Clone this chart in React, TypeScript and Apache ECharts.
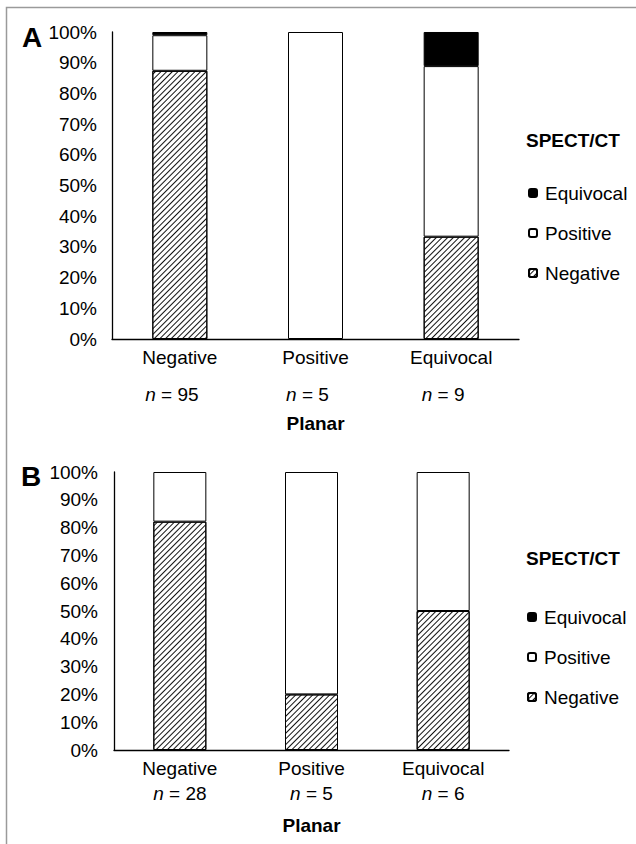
import React, { useEffect, useRef } from 'react';
import * as echarts from 'echarts';

// ---- data ----
const categories = ['Negative', 'Positive', 'Equivocal'];
const legendOrder = ['Equivocal', 'Positive', 'Negative'];

// Panel A counts (per Planar category)
const nA = [95, 5, 9];
const negA = [83, 0, 3];
const posA = [11, 5, 5];
const eqA = [1, 0, 1];

// Panel B counts (per Planar category)
const nB = [28, 5, 6];
const negB = [23, 1, 3];
const posB = [5, 4, 3];
const eqB = [0, 0, 0];

const yMin = 0;
const yMax = 100;
const yStep = 10;

const toPct = (counts: number[], n: number[]) =>
  counts.map((c, i) => (c === 0 ? '-' : Math.round((c / n[i]) * 10000) / 100));

const FONT = "'Liberation Sans', Arial, Helvetica, sans-serif";

const hatchDecal = {
  symbol: 'rect',
  symbolSize: 1,
  color: '#111',
  dashArrayX: [1, 0],
  dashArrayY: [1, 2.2],
  rotation: -Math.PI / 4,
};

function buildSeries(
  neg: number[], pos: number[], eq: number[], n: number[],
  xIdx: number, yIdx: number, stack: string, barWidth: number,
) {
  const common = {
    type: 'bar',
    stack,
    xAxisIndex: xIdx,
    yAxisIndex: yIdx,
    barWidth,
  };
  return [
    {
      ...common,
      name: 'Negative',
      data: toPct(neg, n),
      itemStyle: { color: '#fff', borderColor: '#000', borderWidth: 1, decal: hatchDecal },
    },
    {
      ...common,
      name: 'Positive',
      data: toPct(pos, n),
      itemStyle: { color: '#fff', borderColor: '#000', borderWidth: 1 },
    },
    {
      ...common,
      name: 'Equivocal',
      data: toPct(eq, n),
      itemStyle: { color: '#000', borderColor: '#000', borderWidth: 1 },
    },
  ];
}

function yAxis(gridIndex: number, margin: number) {
  return {
    type: 'value',
    gridIndex,
    min: yMin,
    max: yMax,
    interval: yStep,
    axisLine: { show: true, lineStyle: { color: '#000', width: 1.3 } },
    axisTick: { show: false },
    splitLine: { show: false },
    axisLabel: {
      formatter: '{value}%',
      fontSize: 19,
      fontFamily: FONT,
      color: '#000',
      margin,
    },
  };
}

function mainX(gridIndex: number, nameGap: number) {
  return {
    type: 'category',
    gridIndex,
    position: 'bottom',
    data: categories,
    axisLine: { show: true, lineStyle: { color: '#000', width: 1.3 } },
    axisTick: { show: false },
    axisLabel: { fontSize: 19, fontFamily: FONT, color: '#000', margin: 9 },
    name: 'Planar',
    nameLocation: 'middle',
    nameGap,
    nameTextStyle: { fontSize: 19, fontWeight: 'bold', fontFamily: FONT, color: '#000', verticalAlign: 'top' },
  };
}

function nX(gridIndex: number, n: number[], margin: number, shiftLeft: number) {
  return {
    type: 'category',
    gridIndex,
    position: 'bottom',
    data: categories,
    axisLine: { show: false },
    axisTick: { show: false },
    splitLine: { show: false },
    axisLabel: {
      fontSize: 19,
      fontFamily: FONT,
      color: '#000',
      margin,
      padding: [0, shiftLeft * 2, 0, 0],
      formatter: (_v: string, i: number) => `{i|n} = ${n[i]}`,
      rich: {
        i: { fontStyle: 'italic', fontSize: 19, fontFamily: FONT, color: '#000' },
      },
    },
  };
}

function legend(left: number, top: number) {
  return {
    orient: 'vertical',
    left,
    top,
    padding: 0,
    itemWidth: 8,
    itemHeight: 8,
    itemGap: 20,
    selectedMode: false,
    data: legendOrder,
    textStyle: { fontSize: 19, fontFamily: FONT, color: '#000', lineHeight: 20, padding: [0, 0, 0, 3] },
  };
}

export default function App() {
  const ref = useRef<HTMLDivElement>(null);

  useEffect(() => {
    if (!ref.current) return;
    const chart = echarts.init(ref.current, undefined, { renderer: 'svg' });
    const option: any = {
      animation: false,
      backgroundColor: '#fff',
      aria: { enabled: false },
      title: [
        { text: 'A', left: 22, top: 23, padding: 0, textStyle: { fontSize: 28, fontWeight: 'bold', fontFamily: FONT, color: '#000' } },
        { text: 'B', left: 21, top: 462, padding: 0, textStyle: { fontSize: 28, fontWeight: 'bold', fontFamily: FONT, color: '#000' } },
        { text: 'SPECT/CT', left: 526, top: 131, padding: 0, textStyle: { fontSize: 19, fontWeight: 'bold', fontFamily: FONT, color: '#000' } },
        { text: 'SPECT/CT', left: 526, top: 549, padding: 0, textStyle: { fontSize: 19, fontWeight: 'bold', fontFamily: FONT, color: '#000' } },
      ],
      legend: [legend(528, 183), legend(527, 607)],
      grid: [
        { left: 112, top: 32, width: 407, height: 307, containLabel: false },
        { left: 114, top: 472, width: 395, height: 278, containLabel: false },
      ],
      xAxis: [mainX(0, 75), nX(0, nA, 46, 8), mainX(1, 66), nX(1, nB, 34, 0)],
      yAxis: [yAxis(0, 15), yAxis(1, 16)],
      series: [
        ...buildSeries(negA, posA, eqA, nA, 0, 0, 'A', 55),
        ...buildSeries(negB, posB, eqB, nB, 2, 1, 'B', 53),
      ],
      graphic: [
        {
          type: 'polyline',
          silent: true,
          shape: { points: [[6.5, 844], [6.5, 7.5], [636, 7.5]] },
          style: { stroke: '#9a9a9a', lineWidth: 1.5, fill: null },
        },
      ],
    };
    chart.setOption(option);
    return () => chart.dispose();
  }, []);

  return (
    <div
      ref={ref}
      style={{ position: 'absolute', left: 0, top: 0, width: 636, height: 844, background: '#fff' }}
    />
  );
}
